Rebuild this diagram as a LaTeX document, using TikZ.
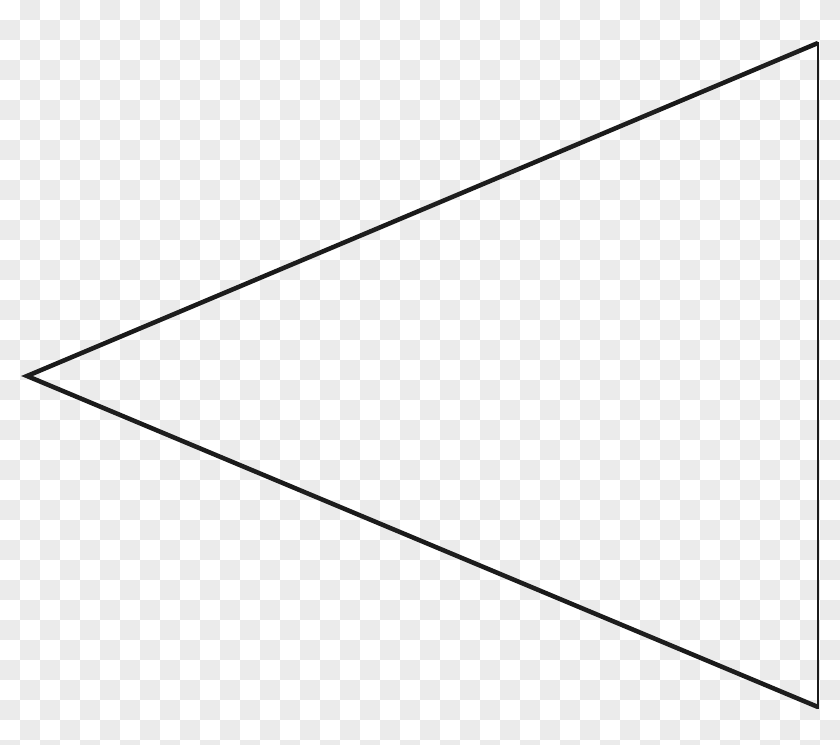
\documentclass[tikz,border=0pt]{standalone}
\usepackage{tikz}
\usetikzlibrary{calc}
\definecolor{checkgray}{HTML}{EBEBEB}
\definecolor{inkblack}{HTML}{1C1C1C}

\begin{document}
\begin{tikzpicture}[x=0.75pt,y=-0.75pt]
        \useasboundingbox (0,0) rectangle (840,745);
        \fill[white] (0,0) rectangle (840,745);
        \foreach \i in {0,...,41}
            \foreach \j in {0,...,37}
                {\ifodd\numexpr\i+\j\relax
                    \fill[checkgray] (20*\i,20*\j) rectangle ++(20,20);
                \fi}

        \coordinate (tip) at (27,376);
        \coordinate (top) at (818,43);
        \coordinate (bot) at (818,707);

        \draw[inkblack,line width=3.4pt,line join=miter] (top) -- (tip) -- (bot);
        \draw[inkblack,line width=1.9pt] ($(top)+(0,-1)$) -- ($(bot)+(0,2)$);
    \end{tikzpicture}
\end{document}
